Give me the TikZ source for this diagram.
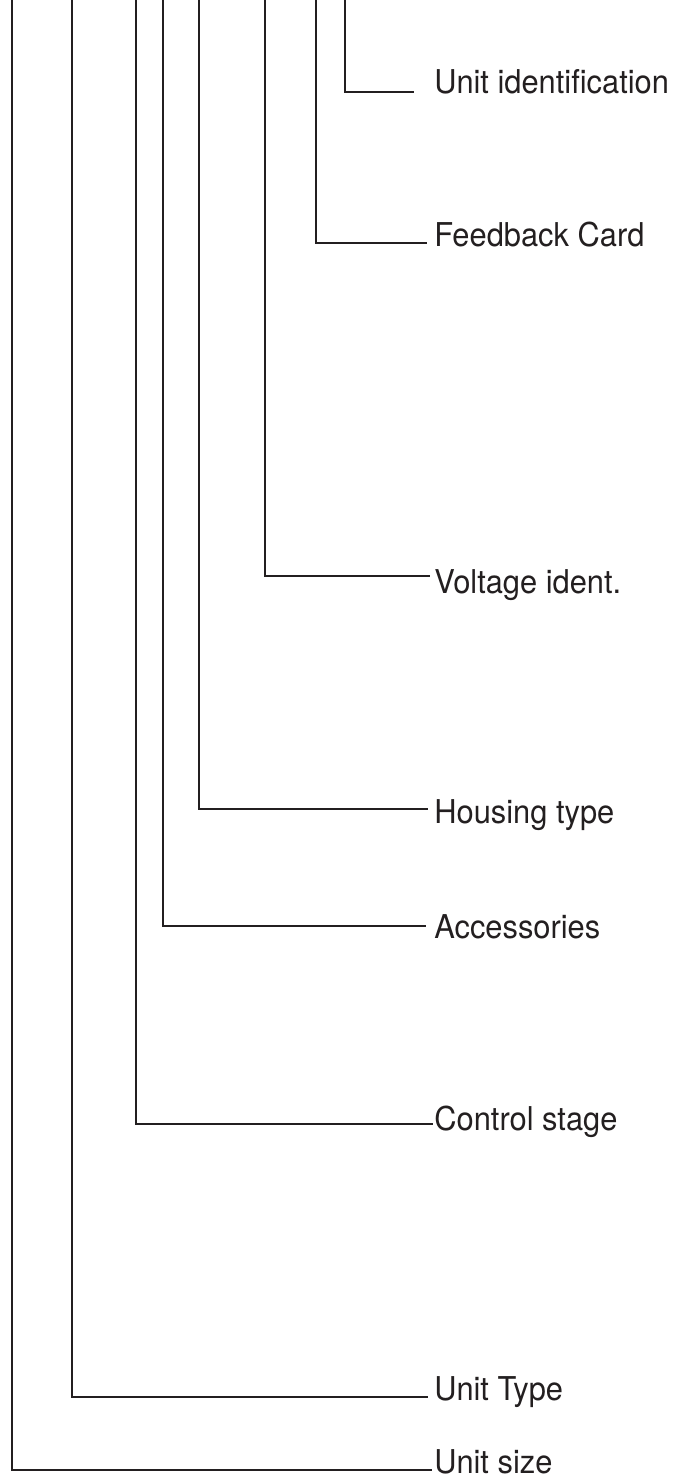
\documentclass[tikz,border=0pt]{standalone}
\usepackage{fontspec}
\setmainfont{TeX Gyre Heros}[FakeStretch=0.94]
\definecolor{ink}{HTML}{231F20}
\begin{document}
\begin{tikzpicture}[x=0.5pt,y=-0.5pt,
    wire/.style={ink,line width=1.25pt},
    lbl/.style={ink,anchor=base west,inner sep=0pt,font=\fontsize{16.4pt}{19pt}\selectfont}]
            \useasboundingbox (0,0) rectangle (679,1479);
            \node[lbl] (uid) at (434,93) {Unit identification};
            \node[lbl] (fb) at (434,246) {Feedback Card};
            \node[lbl] (volt) at (434,593) {Voltage ident.};
            \node[lbl] (hous) at (434,823) {Housing type};
            \node[lbl] (acc) at (434,938) {Accessories};
            \node[lbl] (ctrl) at (434,1130) {Control stage};
            \node[lbl] (utype) at (434,1400) {Unit Type};
            \node[lbl] (usize) at (434,1473) {Unit size};
            \coordinate (uidtop) at (345,0);
            \coordinate (fbtop) at (316,0);
            \coordinate (volttop) at (265,0);
            \coordinate (houstop) at (199,0);
            \coordinate (acctop) at (163,0);
            \coordinate (ctrltop) at (136,0);
            \coordinate (utypetop) at (72,0);
            \coordinate (usizetop) at (12,0);
            \coordinate (uidc) at (345,92);
            \coordinate (fbc) at (316,243);
            \coordinate (voltc) at (265,576);
            \coordinate (housc) at (199,809);
            \coordinate (accc) at (163,926);
            \coordinate (ctrlc) at (136,1124);
            \coordinate (utypec) at (72,1397);
            \coordinate (usizec) at (12,1470);
            \draw[wire,shorten >=10pt] (uidtop) -- (uidc) -- (uidc -| uid.west);
            \draw[wire,shorten >=3.5pt] (fbtop) -- (fbc) -- (fbc -| fb.west);
            \draw[wire,shorten >=2pt] (volttop) -- (voltc) -- (voltc -| volt.west);
            \draw[wire,shorten >=3pt] (houstop) -- (housc) -- (housc -| hous.west);
            \draw[wire,shorten >=4pt] (acctop) -- (accc) -- (accc -| acc.west);
            \draw[wire,shorten >=0.5pt] (ctrltop) -- (ctrlc) -- (ctrlc -| ctrl.west);
            \draw[wire,shorten >=3pt] (utypetop) -- (utypec) -- (utypec -| utype.west);
            \draw[wire,shorten >=1pt] (usizetop) -- (usizec) -- (usizec -| usize.west);
        \end{tikzpicture}
\end{document}
